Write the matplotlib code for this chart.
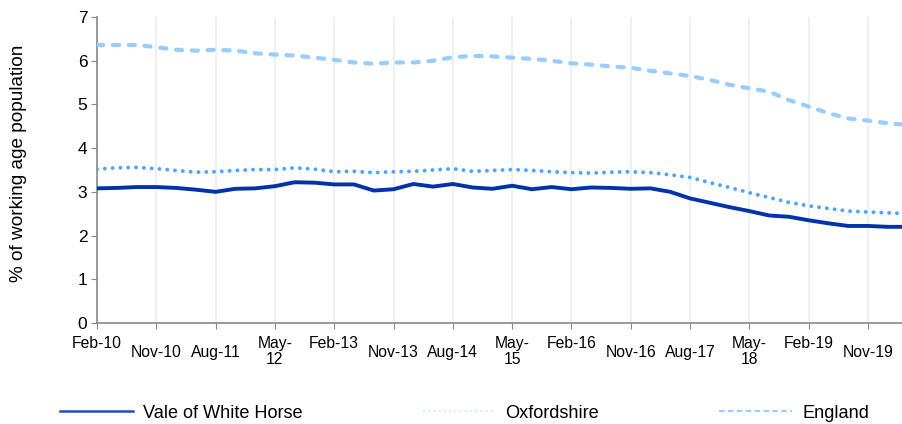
import matplotlib.pyplot as plt
from matplotlib.lines import Line2D
import numpy as np

plt.rcParams['font.family'] = ['Liberation Sans', 'DejaVu Sans']

# quarterly figures, Feb-10 onwards
vale = [3.08, 3.09, 3.11, 3.11, 3.09, 3.05, 3.00, 3.07, 3.08, 3.13,
        3.22, 3.21, 3.17, 3.17, 3.03, 3.06, 3.18, 3.12, 3.18, 3.10,
        3.07, 3.14, 3.06, 3.11, 3.06, 3.10, 3.09, 3.07, 3.08, 3.00,
        2.85, 2.75, 2.65, 2.56, 2.46, 2.43, 2.35, 2.28, 2.22, 2.22,
        2.20, 2.20]
oxon = [3.52, 3.55, 3.56, 3.53, 3.49, 3.45, 3.46, 3.49, 3.51, 3.51,
        3.55, 3.52, 3.46, 3.47, 3.44, 3.46, 3.47, 3.50, 3.53, 3.47,
        3.49, 3.51, 3.49, 3.46, 3.44, 3.43, 3.45, 3.46, 3.44, 3.39,
        3.33, 3.21, 3.10, 2.98, 2.87, 2.76, 2.68, 2.62, 2.56, 2.54,
        2.52, 2.50]
england = [6.36, 6.36, 6.36, 6.31, 6.25, 6.23, 6.25, 6.23, 6.17, 6.14,
           6.12, 6.07, 6.02, 5.96, 5.93, 5.96, 5.96, 6.00, 6.08, 6.11,
           6.10, 6.07, 6.04, 6.00, 5.94, 5.91, 5.87, 5.84, 5.77, 5.71,
           5.65, 5.56, 5.45, 5.37, 5.29, 5.10, 4.95, 4.80, 4.68, 4.63,
           4.57, 4.53]
tick_labels = ['Feb-10', 'Nov-10', 'Aug-11', 'May-\n12', 'Feb-13', 'Nov-13',
               'Aug-14', 'May-\n15', 'Feb-16', 'Nov-16', 'Aug-17', 'May-\n18',
               'Feb-19', 'Nov-19']

x = np.arange(len(vale))

fig = plt.figure(figsize=(9.03, 4.24), dpi=100)
ax = fig.add_axes([97/903, 1-323/424, 1-97/903, (323-17)/424])

c_vale = '#0033AA'
c_oxon = '#4DA3FF'
c_eng = '#99CCFF'

ax.plot(x, england, color=c_eng, lw=3.0, dashes=(1.5, 2.3), dash_capstyle='round', zorder=3)
ax.plot(x, oxon, color=c_oxon, lw=2.8, dashes=(0.01, 2.0), dash_capstyle='round', zorder=3)
ax.plot(x, vale, color=c_vale, lw=2.8, solid_joinstyle='round', zorder=4)

ticks = np.arange(0, 40, 3)
ax.set_xticks(ticks)
ax.set_xticklabels(tick_labels, fontsize=11.3, linespacing=1.05)
ax.set_xlim(0, 40.77)
ax.set_ylim(0, 7)
ax.set_yticks(range(8))
ax.tick_params(axis='y', labelsize=12.5, length=4, color='#888888', pad=3)
ax.tick_params(axis='x', length=4, color='#888888')
for i, t in enumerate(ax.xaxis.get_major_ticks()):
    lab = tick_labels[i]
    if lab.startswith('Nov') or lab.startswith('Aug'):
        t.set_pad(12)
    else:
        t.set_pad(5.5)

ax.grid(axis='x', color='#EEEEEE', lw=1.2)
ax.set_axisbelow(True)
for s in ['top', 'right']:
    ax.spines[s].set_visible(False)
for s in ['left', 'bottom']:
    ax.spines[s].set_color('#888888')
    ax.spines[s].set_linewidth(1.2)

fig.text(19/903, 1-163/424, '% of working age population', rotation=90,
         ha='center', va='center', fontsize=13.7)

handles = [Line2D([], [], color='#1F4FBF', lw=1.8),
           Line2D([], [], color='#D6EBFF', lw=1.5, dashes=(1, 1.5)),
           Line2D([], [], color='#99CCFF', lw=1.6, dashes=(2.5, 1.5))]
fig.legend(handles, ['Vale of White Horse', 'Oxfordshire', 'England'],
           loc='center left', bbox_to_anchor=(44/903, 1-413/424), ncol=3,
           frameon=False, fontsize=13.1, handlelength=4.0, handletextpad=0.55,
           columnspacing=6.6)

plt.savefig('out.png', dpi=100)
